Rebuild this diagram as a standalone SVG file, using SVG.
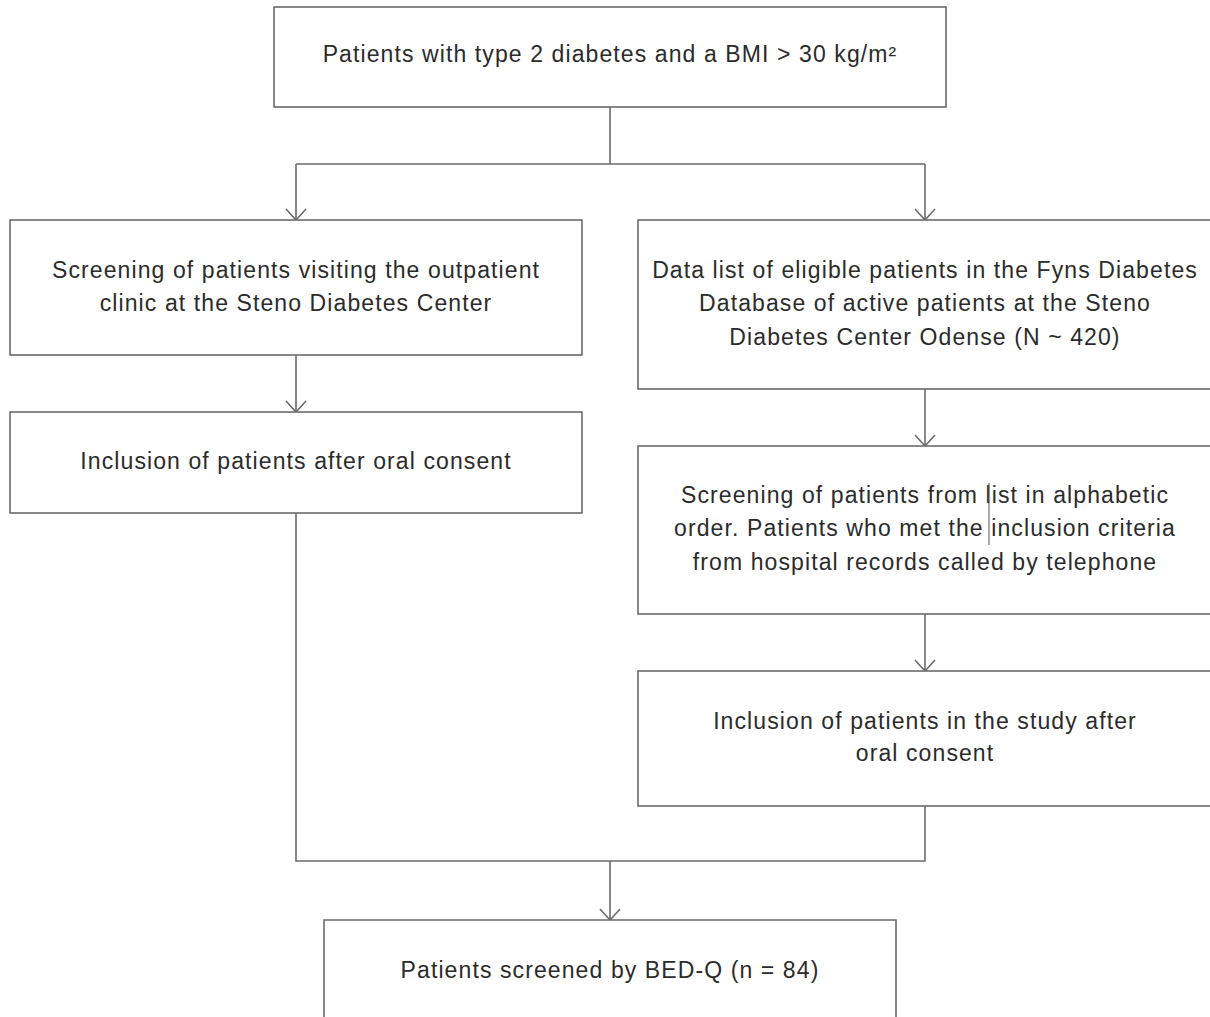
<svg xmlns="http://www.w3.org/2000/svg" width="1210" height="1017" viewBox="0 0 1210 1017">
<defs>
<style>
.box{fill:#fff;stroke:#6b6b6b;stroke-width:1.6}
.t{font-family:"Liberation Sans",Arial,sans-serif;font-size:23px;letter-spacing:1.1px;fill:#2b2b2b;text-anchor:middle}
.c{fill:none;stroke:#6b6b6b;stroke-width:1.6}
</style>
<marker id="arr" viewBox="0 0 22 22" refX="20" refY="11" markerWidth="22" markerHeight="22" markerUnits="userSpaceOnUse" orient="auto">
<path d="M9,1 L20,11 L9,21" fill="none" stroke="#6b6b6b" stroke-width="1.6"/>
</marker>
</defs>
<rect width="1210" height="1017" fill="#fff"/>
<g id="connectors">
<path class="c" d="M610,107 V164 M296,164 H925"/>
<path class="c" d="M296,164 V220" marker-end="url(#arr)"/>
<path class="c" d="M925,164 V220" marker-end="url(#arr)"/>
<path class="c" d="M296,355 V412" marker-end="url(#arr)"/>
<path class="c" d="M925,389 V446" marker-end="url(#arr)"/>
<path class="c" d="M925,614 V671" marker-end="url(#arr)"/>
<path class="c" d="M296,513 V861 H925 V806"/>
<path class="c" d="M610,861 V920" marker-end="url(#arr)"/>
</g>
<g id="n1"><rect class="box" x="274" y="7" width="672" height="100"/>
<text class="t" x="610" y="62">Patients with type 2 diabetes and a BMI &gt; 30 kg/m²</text></g>
<g id="n2"><rect class="box" x="10" y="220" width="572" height="135"/>
<text class="t" x="296" y="278">Screening of patients visiting the outpatient</text>
<text class="t" x="296" y="311">clinic at the Steno Diabetes Center</text></g>
<g id="n3"><rect class="box" x="10" y="412" width="572" height="101"/>
<text class="t" x="296" y="469">Inclusion of patients after oral consent</text></g>
<g id="n4"><rect class="box" x="638" y="220" width="580" height="169"/>
<text class="t" x="925" y="278">Data list of eligible patients in the Fyns Diabetes</text>
<text class="t" x="925" y="311">Database of active patients at the Steno</text>
<text class="t" x="925" y="345">Diabetes Center Odense (N ~ 420)</text></g>
<g id="n5"><rect class="box" x="638" y="446" width="580" height="168"/>
<text class="t" x="925" y="503">Screening of patients from list in alphabetic</text>
<text class="t" x="925" y="536">order. Patients who met the inclusion criteria</text>
<text class="t" x="925" y="570">from hospital records called by telephone</text>
<line x1="989" y1="483" x2="989" y2="545" stroke="#555" stroke-width="1"/></g>
<g id="n6"><rect class="box" x="638" y="671" width="580" height="135"/>
<text class="t" x="925" y="729">Inclusion of patients in the study after</text>
<text class="t" x="925" y="761">oral consent</text></g>
<g id="n7"><path class="box" d="M324,1030 V920 H896 V1030"/>
<text class="t" x="610" y="978">Patients screened by BED-Q (n = 84)</text></g>
</svg>
